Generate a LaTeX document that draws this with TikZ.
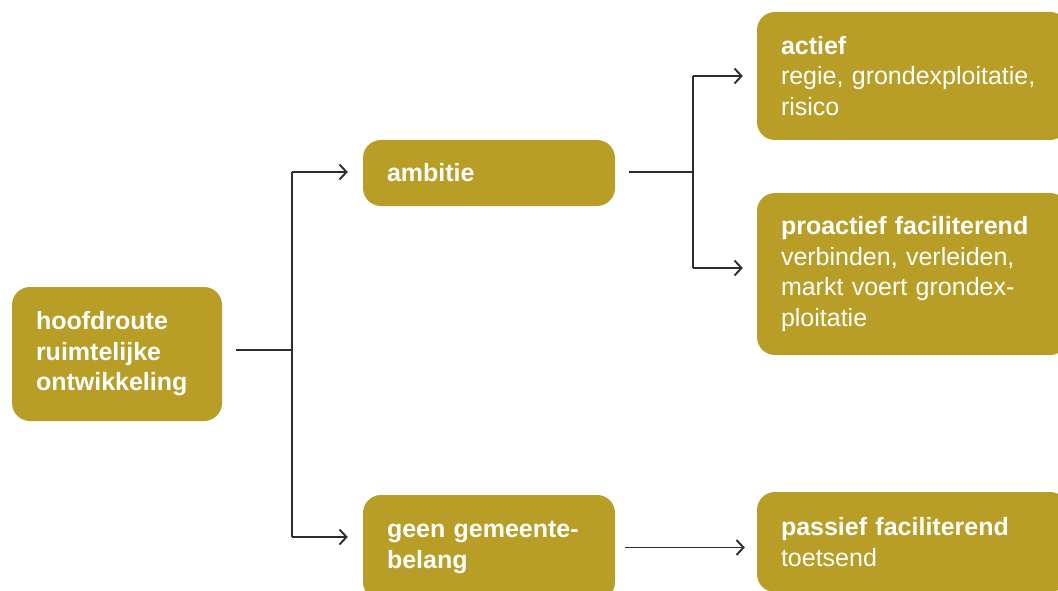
\documentclass[tikz,border=0pt]{standalone}
\usepackage{fontspec}
\setmainfont{Liberation Sans}
\usetikzlibrary{arrows.meta}
\definecolor{gold}{RGB}{184,158,38}
\definecolor{linegray}{RGB}{45,45,45}
\begin{document}
\begin{tikzpicture}[x=1pt,y=-1pt,
  box/.style={fill=gold, draw=none, rounded corners=18pt, text=white,
    inner xsep=24pt, inner ysep=0pt, align=left,
    font=\fontsize{25}{30.5}\selectfont},
  conn/.style={draw=linegray, line width=1.9pt},
  arr/.style={conn, -{Straight Barb[length=7pt,width=15pt,line width=1.9pt]}}]
\useasboundingbox (0,0) rectangle (1058,591);
\clip (0,0) rectangle (1058,591);
\node[box, text width=162pt, minimum height=134pt] (hoofd) at (117,354)
  {\bfseries hoofdroute\\\bfseries ruimtelijke\\\bfseries ontwikkeling};
\node[box, text width=204pt, minimum height=66pt] (amb) at (489,173)
  {\bfseries ambitie};
\node[box, text width=204pt, minimum height=105pt] (geen) at (489,547.5)
  {\bfseries geen gemeente-\\\bfseries belang};
\node[box, text width=263pt, minimum height=128pt] (act) at (912.5,76)
  {\textbf{actief}\\regie, grondexploitatie,\\risico};
\node[box, text width=263pt, minimum height=162pt] (pro) at (912.5,274)
  {\textbf{proactief faciliterend}\\verbinden, verleiden,\\markt voert grondex-\\ploitatie};
\node[box, text width=263pt, minimum height=100pt] (pas) at (912.5,542)
  {\textbf{passief faciliterend}\\toetsend};
% junction coordinates
\coordinate (j1) at (292,350);
\coordinate (j1t) at (292,172);
\coordinate (j1b) at (292,537);
\coordinate (j2) at (693,172);
\coordinate (j2t) at (693,76);
\coordinate (j2b) at (693,268);
% connectors
\coordinate (h0) at ([xshift=14pt]hoofd.east |- j1);
\draw[conn] (h0) -- (j1);
\draw[conn] (j1t) -- (j1b);
\draw[arr] (j1t) -- ([xshift=-15pt]amb.west |- j1t);
\draw[arr] (j1b) -- ([xshift=-15pt]geen.west |- j1b);
\coordinate (a0) at ([xshift=14pt]amb.east |- j2);
\draw[conn] (a0) -- (j2);
\draw[conn] (j2t) -- (j2b);
\draw[arr] (j2t) -- ([xshift=-14pt]act.west |- j2t);
\draw[arr] (j2b) -- ([xshift=-14pt]pro.west |- j2b);
\coordinate (g0) at ([xshift=10pt]geen.east);
\draw[arr] (g0) -- ([xshift=-12pt]pas.west |- g0);
\end{tikzpicture}
\end{document}
